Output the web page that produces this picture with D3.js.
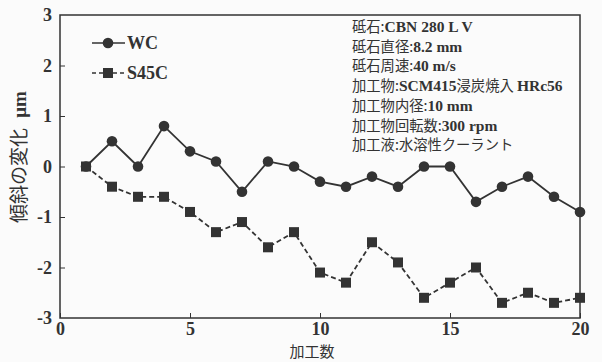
<!DOCTYPE html>
<html lang="ja">
<head>
<meta charset="UTF-8">
<title>傾斜の変化</title>
<style>
    body { margin: 0; padding: 0; background: #fbfbfb; }
    svg { display: block; }
    .tick text { font-family: "Liberation Serif", serif; font-weight: bold; font-size: 18px; fill: #333; }
    .note { fill: #333; }
</style>
</head>
<body>
<div id="chart"></div>
<script src="https://cdn.jsdelivr.net/npm/d3@7"></script>
<script>
    // データ
    const runs = d3.range(1, 21)
    const wc = [0, 0.5, 0, 0.8, 0.3, 0.1, -0.5, 0.1, 0, -0.3, -0.4, -0.2, -0.4, 0, 0, -0.7, -0.4, -0.2, -0.6, -0.9]
    const s45c = [0, -0.4, -0.6, -0.6, -0.9, -1.3, -1.1, -1.6, -1.3, -2.1, -2.3, -1.5, -1.9, -2.6, -2.3, -2.0, -2.7, -2.5, -2.7, -2.6]
    const xTicks = [0, 5, 10, 15, 20]
    const yTicks = [-3, -2, -1, 0, 1, 2, 3]
    const notes = [
        ['砥石:', 'CBN 280 L V'],
        ['砥石直径:', '8.2 mm'],
        ['砥石周速:', '40 m/s'],
        ['加工物:', 'SCM415', '浸炭焼入 ', 'HRc56'],
        ['加工物内径:', '10 mm'],
        ['加工物回転数:', '300 rpm'],
        ['加工液:', '水溶性クーラント']
    ]

    const w = 602
    const h = 362
    const padL = 60, padR = 580, padT = 15, padB = 318
    const ink = '#333'

    const x = d3.scaleLinear().domain([0, 20]).range([padL, padR])
    const y = d3.scaleLinear().domain([-3, 3]).range([padB, padT])

    const svg = d3.select('#chart').append('svg').attr('width', w).attr('height', h)

    // 枠
    svg.append('rect')
        .attr('x', padL).attr('y', padT)
        .attr('width', padR - padL).attr('height', padB - padT)
        .attr('fill', 'none').attr('stroke', ink).attr('stroke-width', 1.5)

    const xAxis = svg.append('g')
        .attr('transform', 'translate(0,' + padB + ')')
        .call(d3.axisBottom(x).tickValues(xTicks).tickFormat(d => String(d)).tickSizeInner(-5).tickSizeOuter(0))
    xAxis.select('.domain').remove()
    xAxis.selectAll('line').attr('stroke', ink)
    xAxis.selectAll('text').attr('y', 17).attr('dy', 0)

    const yAxis = svg.append('g')
        .attr('transform', 'translate(' + padL + ',0)')
        .call(d3.axisLeft(y).tickValues(yTicks).tickFormat(d => String(d)).tickSizeInner(-5).tickSizeOuter(0).tickPadding(8))
    yAxis.select('.domain').remove()
    yAxis.selectAll('line').attr('stroke', ink)
    yAxis.selectAll('.tick').filter(d => d === -3 || d === 3).select('line').remove()

    // 系列
    const line = d3.line().x((d, i) => x(runs[i])).y(d => y(d))

    svg.append('path').datum(s45c)
        .attr('d', line).attr('fill', 'none')
        .attr('stroke', ink).attr('stroke-width', 1.8).attr('stroke-dasharray', '5,3')
    svg.selectAll('.sq').data(s45c).enter().append('rect')
        .attr('class', 'sq')
        .attr('x', (d, i) => x(runs[i]) - 5).attr('y', d => y(d) - 5)
        .attr('width', 10).attr('height', 10).attr('fill', ink)

    svg.append('path').datum(wc)
        .attr('d', line).attr('fill', 'none')
        .attr('stroke', ink).attr('stroke-width', 1.8)
    svg.selectAll('.dot').data(wc).enter().append('circle')
        .attr('class', 'dot')
        .attr('cx', (d, i) => x(runs[i])).attr('cy', d => y(d))
        .attr('r', 5.3).attr('fill', ink)

    // 凡例
    const legend = [
        { name: 'WC', dash: null, y: 43 },
        { name: 'S45C', dash: '4,3', y: 73 }
    ]
    legend.forEach(l => {
        svg.append('line').attr('x1', 92).attr('x2', 125).attr('y1', l.y).attr('y2', l.y)
            .attr('stroke', ink).attr('stroke-width', 1.5).attr('stroke-dasharray', l.dash)
        if (l.dash) {
            svg.append('rect').attr('x', 103).attr('y', l.y - 5).attr('width', 10).attr('height', 10).attr('fill', ink)
        } else {
            svg.append('circle').attr('cx', 108).attr('cy', l.y).attr('r', 5.3).attr('fill', ink)
        }
        svg.append('text').attr('x', 127).attr('y', l.y + 6)
            .attr('font-family', '"Liberation Serif", serif').attr('font-weight', 'bold')
            .attr('font-size', 18).attr('fill', ink).text(l.name)
    })

    // 条件
    notes.forEach((parts, i) => {
        const t = svg.append('text').attr('class', 'note')
            .attr('x', 352).attr('y', 32 + i * 19.7)
        parts.forEach(p => {
            const latin = /^[\x20-\x7e]+$/.test(p) && !p.endsWith(':')
            t.append('tspan')
                .attr('font-family', latin ? '"Liberation Serif", serif' : '"Noto Sans CJK JP", sans-serif')
                .attr('font-weight', latin ? 'bold' : 'normal')
                .attr('font-size', latin ? 15.5 : 14.3)
                .text(p)
        })
    })

    // 軸ラベル
    const yLabel = svg.append('text')
        .attr('transform', 'translate(26,157) rotate(-90)')
        .attr('text-anchor', 'middle')
        .attr('font-size', 19).attr('fill', ink)
    yLabel.append('tspan').attr('font-family', '"Noto Sans CJK JP", sans-serif').text('傾斜の変化 ')
    yLabel.append('tspan').attr('font-family', '"Liberation Serif", serif').attr('font-weight', 'bold')
        .attr('dx', 6).text('μm')

    svg.append('text')
        .attr('x', 312).attr('y', 357)
        .attr('text-anchor', 'middle')
        .attr('font-family', '"Noto Sans CJK JP", sans-serif').attr('font-size', 15).attr('fill', ink)
        .text('加工数')
</script>
</body>
</html>
